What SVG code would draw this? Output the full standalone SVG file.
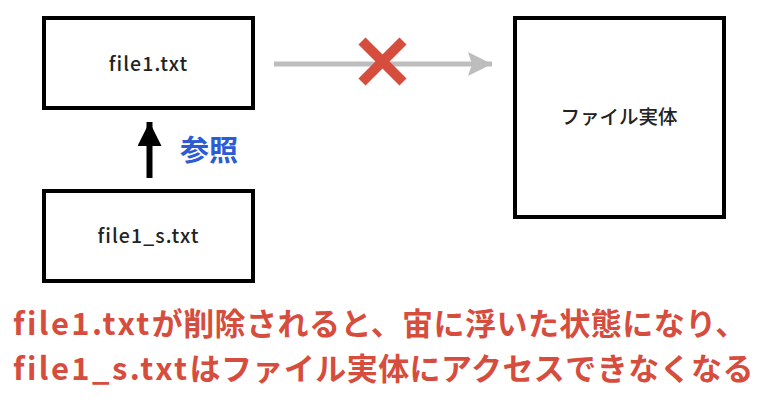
<svg xmlns="http://www.w3.org/2000/svg" width="768" height="408" viewBox="0 0 768 408">
<style>
.box{fill:#fff;stroke:#000;stroke-width:4}
.lbl{font-family:"Noto Sans CJK JP","Noto Sans",sans-serif;font-size:19.5px;font-weight:500;fill:#222;text-anchor:middle}
.note{font-family:"Noto Sans CJK JP","Noto Sans",sans-serif;font-size:31px;font-weight:700;fill:#d64d3e}
.x{stroke:#d64d3e;stroke-width:10;stroke-linecap:butt}
</style>
<defs>
<marker id="gray" markerUnits="userSpaceOnUse" markerWidth="26" markerHeight="26" refX="24" refY="12" orient="auto">
<path d="M0,0 L24,12 L0,24 L4,12 Z" fill="#bdbdbd"/>
</marker>
<marker id="black" markerUnits="userSpaceOnUse" markerWidth="26" markerHeight="26" refX="24" refY="12" orient="auto">
<path d="M0,0 L24,12 L0,24 Z" fill="#000"/>
</marker>
</defs>
<rect width="768" height="408" fill="#fff"/>
<g id="connectors">
<line x1="274" y1="64" x2="492" y2="64" stroke="#bdbdbd" stroke-width="5" marker-end="url(#gray)"/>
<g id="cross">
<line class="x" x1="362" y1="41" x2="403" y2="82"/>
<line class="x" x1="403" y1="41" x2="362" y2="82"/>
</g>
<line x1="149.5" y1="178" x2="149.5" y2="122" stroke="#000" stroke-width="6" marker-end="url(#black)"/>
<text x="180" y="161" style="font-family:'Noto Sans CJK JP','Noto Sans',sans-serif;font-size:29px;font-weight:700;fill:#2b5bd5">参照</text>
</g>
<g id="file1">
<rect class="box" x="44" y="18" width="209" height="90"/>
<text class="lbl" x="148.5" y="71" letter-spacing="1.1">file1.txt</text>
</g>
<g id="file1_s">
<rect class="box" x="44" y="191" width="209" height="90"/>
<text class="lbl" x="148.5" y="243" letter-spacing="1.1">file1_s.txt</text>
</g>
<g id="entity">
<rect class="box" x="515" y="18" width="209" height="199"/>
<text class="lbl" x="619" y="124">ファイル実体</text>
</g>
<g id="caption">
<text class="note" x="13" y="335"><tspan letter-spacing="2.4">file1.txt</tspan><tspan letter-spacing="0.45">が削除されると、宙に浮いた状態になり、</tspan></text>
<text class="note" x="13" y="380"><tspan letter-spacing="2.4">file1_s.txt</tspan><tspan letter-spacing="0.45">はファイル実体にアクセスできなくなる</tspan></text>
</g>
</svg>
